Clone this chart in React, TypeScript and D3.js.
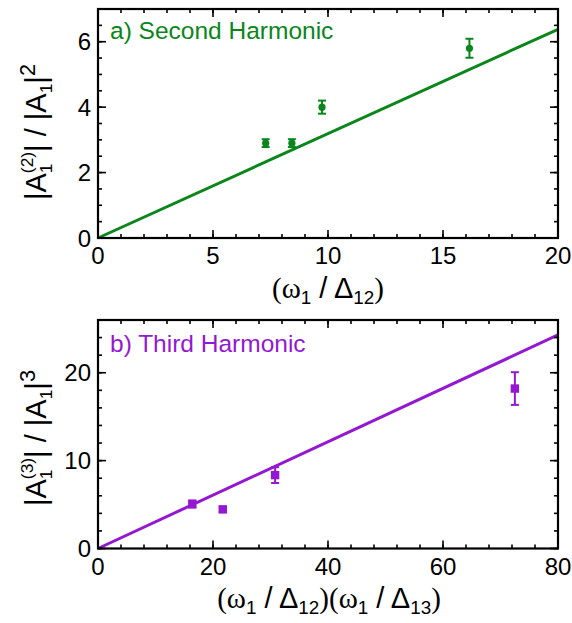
import React from "react";
import * as d3 from "d3";

// Panel a: second harmonic
const secondX = [7.29, 8.43, 9.74, 16.15];
const secondY = [2.9, 2.9, 4.0, 5.8];
const secondErr = [0.12, 0.12, 0.2, 0.29];
const secondFitX = [0, 20];
const secondFitY = [0, 6.38];
const secondXTicks = [0, 5, 10, 15, 20];
const secondYTicks = [0, 2, 4, 6];

// Panel b: third harmonic
const thirdX = [16.4, 21.7, 30.8, 72.5];
const thirdY = [5.06, 4.45, 8.35, 18.2];
const thirdErr = [0.4, 0.3, 0.9, 1.86];
const thirdFitX = [0, 80];
const thirdFitY = [0, 24.3];
const thirdXTicks = [0, 20, 40, 60, 80];
const thirdYTicks = [0, 10, 20];

const GREEN = "#0a861c";
const PURPLE = "#9418d2";
const SANS = "'Liberation Sans', Arial, Helvetica, sans-serif";
const SERIF = "'Liberation Serif', 'Times New Roman', serif";

type PanelProps = {
  x: d3.ScaleLinear<number, number>;
  y: d3.ScaleLinear<number, number>;
  xTicks: number[];
  yTicks: number[];
  xMinorStep: number;
  yMinorStep: number;
};

const TICK_FS = 24;

function Frame({ x, y, xTicks, yTicks, xMinorStep, yMinorStep }: PanelProps) {
  const [x0, x1] = x.range();
  const [y0, y1] = y.range();
  const [dx0, dx1] = x.domain();
  const [dy0, dy1] = y.domain();
  const xMinor = d3.range(dx0, dx1 + 1e-9, xMinorStep);
  const yMinor = d3.range(dy0, dy1 + 1e-9, yMinorStep);
  const major = 8;
  const minor = 4;
  return (
    <g>
      {xMinor.map((v, i) => (
        <g key={"xm" + i}>
          <line x1={x(v)} x2={x(v)} y1={y0} y2={y0 - minor} stroke="#000" strokeWidth={1.6} />
          <line x1={x(v)} x2={x(v)} y1={y1} y2={y1 + minor} stroke="#000" strokeWidth={1.6} />
        </g>
      ))}
      {yMinor.map((v, i) => (
        <g key={"ym" + i}>
          <line x1={x0} x2={x0 + minor} y1={y(v)} y2={y(v)} stroke="#000" strokeWidth={1.6} />
          <line x1={x1} x2={x1 - minor} y1={y(v)} y2={y(v)} stroke="#000" strokeWidth={1.6} />
        </g>
      ))}
      {xTicks.map((v, i) => (
        <g key={"xt" + i}>
          <line x1={x(v)} x2={x(v)} y1={y0} y2={y0 - major} stroke="#000" strokeWidth={1.6} />
          <line x1={x(v)} x2={x(v)} y1={y1} y2={y1 + major} stroke="#000" strokeWidth={1.6} />
          <text x={x(v)} y={y0 + 26} textAnchor="middle" fontFamily={SANS} fontSize={TICK_FS}>
            {v}
          </text>
        </g>
      ))}
      {yTicks.map((v, i) => (
        <g key={"yt" + i}>
          <line x1={x0} x2={x0 + major} y1={y(v)} y2={y(v)} stroke="#000" strokeWidth={1.6} />
          <line x1={x1} x2={x1 - major} y1={y(v)} y2={y(v)} stroke="#000" strokeWidth={1.6} />
          <text x={x0 - 7} y={y(v) + 8.5} textAnchor="end" fontFamily={SANS} fontSize={TICK_FS}>
            {v}
          </text>
        </g>
      ))}
      <rect x={x0} y={y1} width={x1 - x0} height={y0 - y1} fill="none" stroke="#000" strokeWidth={2.2} />
    </g>
  );
}

export default function App() {
  const xa = d3.scaleLinear().domain([0, 20]).range([98, 558]);
  const ya = d3.scaleLinear().domain([0, 7]).range([238, 9]);
  const xb = d3.scaleLinear().domain([0, 80]).range([98, 558]);
  const yb = d3.scaleLinear().domain([0, 26]).range([548.5, 320]);

  const lineA = d3
    .line<number>()
    .x((_, i) => xa(secondFitX[i]))
    .y((_, i) => ya(secondFitY[i]));
  const lineB = d3
    .line<number>()
    .x((_, i) => xb(thirdFitX[i]))
    .y((_, i) => yb(thirdFitY[i]));

  const cap = 4;
  const F = 29;
  const XF = 29;

  const yLabel = (cx: number, cy: number, n: string) => (
    <text transform={`translate(${cx},${cy}) rotate(-90)`} textAnchor="middle" fontFamily={SANS} fontSize={F}>
      <tspan>|A</tspan>
      <tspan fontSize={F * 0.6} dy={6}>1</tspan>
      <tspan fontSize={F * 0.6} dx={-F * 0.6 * 0.556} dy={-19}>({n})</tspan>
      <tspan dy={13}>| / |A</tspan>
      <tspan fontSize={F * 0.6} dy={6}>1</tspan>
      <tspan dy={-6}>|</tspan>
      <tspan fontSize={F * 0.75} dy={-11}>{n}</tspan>
    </text>
  );

  return (
    <svg
      width={572}
      height={623}
      style={{ position: "absolute", left: 0, top: 0, background: "#fff" }}
    >
      <rect width={572} height={623} fill="#fff" />

      {/* Panel a */}
      <path d={lineA(secondFitX) || ""} fill="none" stroke={GREEN} strokeWidth={3} />
      {secondX.map((v, i) => (
        <g key={"a" + i} stroke={GREEN} strokeWidth={2}>
          <line x1={xa(v)} x2={xa(v)} y1={ya(secondY[i] - secondErr[i])} y2={ya(secondY[i] + secondErr[i])} />
          <line x1={xa(v) - cap} x2={xa(v) + cap} y1={ya(secondY[i] - secondErr[i])} y2={ya(secondY[i] - secondErr[i])} />
          <line x1={xa(v) - cap} x2={xa(v) + cap} y1={ya(secondY[i] + secondErr[i])} y2={ya(secondY[i] + secondErr[i])} />
          <circle cx={xa(v)} cy={ya(secondY[i])} r={3.6} fill={GREEN} stroke="none" />
        </g>
      ))}
      <Frame x={xa} y={ya} xTicks={secondXTicks} yTicks={secondYTicks} xMinorStep={1} yMinorStep={0.5} />
      <text x={110} y={38.5} fill={GREEN} fontFamily={SANS} fontSize={24.5}>
        a) Second Harmonic
      </text>

      {/* Panel b */}
      <path d={lineB(thirdFitX) || ""} fill="none" stroke={PURPLE} strokeWidth={3} />
      {thirdX.map((v, i) => (
        <g key={"b" + i} stroke={PURPLE} strokeWidth={2}>
          <line x1={xb(v)} x2={xb(v)} y1={yb(thirdY[i] - thirdErr[i])} y2={yb(thirdY[i] + thirdErr[i])} />
          <line x1={xb(v) - cap} x2={xb(v) + cap} y1={yb(thirdY[i] - thirdErr[i])} y2={yb(thirdY[i] - thirdErr[i])} />
          <line x1={xb(v) - cap} x2={xb(v) + cap} y1={yb(thirdY[i] + thirdErr[i])} y2={yb(thirdY[i] + thirdErr[i])} />
          <rect x={xb(v) - 4.2} y={yb(thirdY[i]) - 4.2} width={8.4} height={8.4} fill={PURPLE} stroke="none" />
        </g>
      ))}
      <Frame x={xb} y={yb} xTicks={thirdXTicks} yTicks={thirdYTicks} xMinorStep={4} yMinorStep={2} />
      <text x={110} y={352} fill={PURPLE} fontFamily={SANS} fontSize={24.5}>
        b) Third Harmonic
      </text>

      {/* Y labels */}
      {yLabel(46, 132, "2")}
      {yLabel(46, 438, "3")}

      {/* X labels */}
      <text x={328} y={298} textAnchor="middle" fontSize={XF}>
        <tspan fontFamily={SERIF}>(ω</tspan>
        <tspan fontFamily={SANS} fontSize={XF * 0.65} dy={6}>1</tspan>
        <tspan fontFamily={SANS} dy={-6}> / Δ</tspan>
        <tspan fontFamily={SANS} fontSize={XF * 0.65} dy={6}>12</tspan>
        <tspan fontFamily={SERIF} dy={-6}>)</tspan>
      </text>
      <text x={329} y={608} textAnchor="middle" fontSize={XF}>
        <tspan fontFamily={SERIF}>(ω</tspan>
        <tspan fontFamily={SANS} fontSize={XF * 0.65} dy={6}>1</tspan>
        <tspan fontFamily={SANS} dy={-6}> / Δ</tspan>
        <tspan fontFamily={SANS} fontSize={XF * 0.65} dy={6}>12</tspan>
        <tspan fontFamily={SERIF} dy={-6}>)(ω</tspan>
        <tspan fontFamily={SANS} fontSize={XF * 0.65} dy={6}>1</tspan>
        <tspan fontFamily={SANS} dy={-6}> / Δ</tspan>
        <tspan fontFamily={SANS} fontSize={XF * 0.65} dy={6}>13</tspan>
        <tspan fontFamily={SERIF} dy={-6}>)</tspan>
      </text>
    </svg>
  );
}
